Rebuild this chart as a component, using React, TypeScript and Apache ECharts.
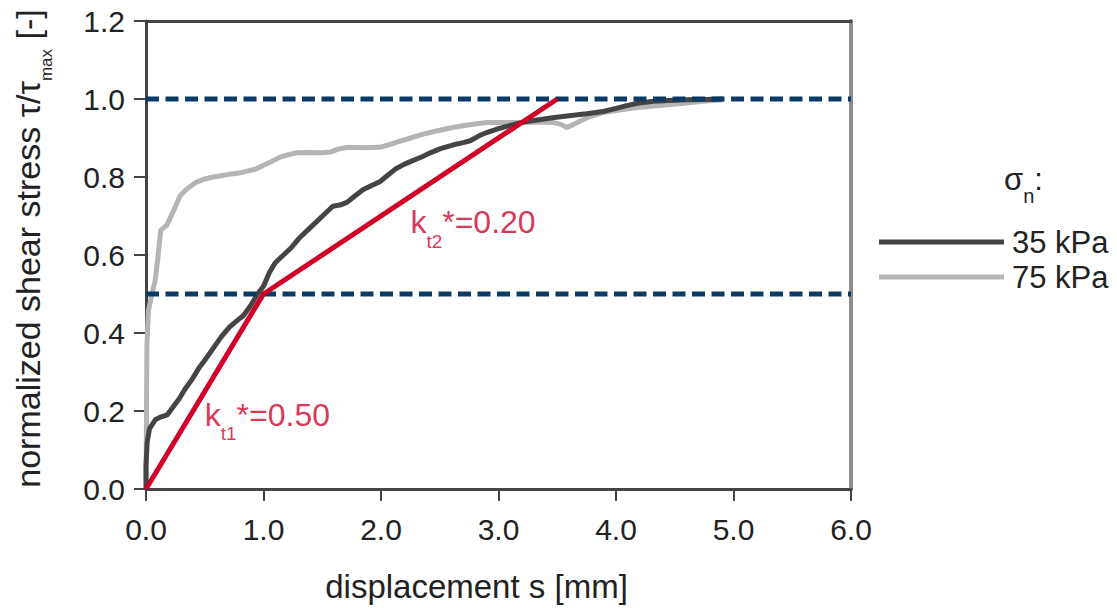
import React, { useEffect, useRef } from 'react';
import * as echarts from 'echarts';

const seriesNames = ['35 kPa', '75 kPa'];

const curve35: [number, number][] = [
  [0, 0], [0.0, 0.06], [0.01, 0.12], [0.03, 0.155], [0.08, 0.178], [0.13, 0.185], [0.18, 0.19],
  [0.23, 0.21], [0.28, 0.23], [0.33, 0.255], [0.4, 0.285], [0.45, 0.31], [0.5, 0.33], [0.57, 0.36],
  [0.64, 0.39], [0.71, 0.415], [0.78, 0.433], [0.83, 0.445], [0.89, 0.47], [0.95, 0.5], [1.0, 0.52],
  [1.05, 0.555], [1.1, 0.58], [1.17, 0.6], [1.24, 0.62], [1.31, 0.645], [1.38, 0.665], [1.45, 0.685],
  [1.52, 0.705], [1.59, 0.725], [1.65, 0.728], [1.71, 0.735], [1.78, 0.752], [1.85, 0.768],
  [1.92, 0.778], [1.99, 0.788], [2.06, 0.805], [2.13, 0.822], [2.2, 0.833], [2.27, 0.842],
  [2.35, 0.852], [2.42, 0.862], [2.5, 0.872], [2.61, 0.882], [2.7, 0.888], [2.76, 0.893],
  [2.83, 0.905], [2.9, 0.914], [3.0, 0.924], [3.07, 0.93], [3.2, 0.94], [3.33, 0.946],
  [3.46, 0.952], [3.6, 0.957], [3.75, 0.962], [3.89, 0.968], [4.0, 0.976], [4.09, 0.983],
  [4.2, 0.99], [4.32, 0.994], [4.45, 0.996], [4.6, 0.998], [4.75, 0.999], [4.91, 1.0],
];

const curve75: [number, number][] = [
  [0, 0.02], [0.003, 0.13], [0.005, 0.25], [0.008, 0.37], [0.02, 0.455], [0.05, 0.5], [0.077, 0.533],
  [0.1, 0.59], [0.125, 0.663], [0.176, 0.676], [0.23, 0.71], [0.29, 0.752], [0.35, 0.77],
  [0.43, 0.787], [0.5, 0.795], [0.57, 0.8], [0.64, 0.803], [0.71, 0.807], [0.79, 0.81],
  [0.86, 0.815], [0.93, 0.82], [1.0, 0.83], [1.07, 0.84], [1.14, 0.851], [1.21, 0.857],
  [1.28, 0.862], [1.4, 0.863], [1.5, 0.862], [1.57, 0.864], [1.64, 0.872], [1.71, 0.876],
  [1.85, 0.875], [1.99, 0.876], [2.06, 0.882], [2.13, 0.889], [2.25, 0.9], [2.36, 0.91],
  [2.47, 0.918], [2.61, 0.927], [2.75, 0.934], [2.9, 0.94], [3.05, 0.94], [3.18, 0.94],
  [3.32, 0.941], [3.46, 0.94], [3.53, 0.935], [3.58, 0.927], [3.64, 0.935], [3.69, 0.943],
  [3.78, 0.955], [3.89, 0.965], [4.03, 0.972], [4.18, 0.978], [4.32, 0.982], [4.46, 0.986],
  [4.6, 0.99], [4.74, 0.994], [4.91, 0.998],
];

const bilinear: [number, number][] = [[0, 0], [1.0, 0.5], [3.5, 1.0]];

const refLevels = [1.0, 0.5];
const xRange = [0, 6];

const annotationX = [0.5, 2.25];
const annotationY = [0.166, 0.66];
const annotationSub = ['t1', 't2'];
const annotationValue = ['0.50', '0.20'];

const FONT = 'Liberation Sans, Arial, sans-serif';
const TEXT = '#222222';
const RED = '#d20028';
const NAVY = '#0b3a66';
const AXIS = '#444444';

export default function App() {
  const ref = useRef<HTMLDivElement>(null);

  useEffect(() => {
    if (!ref.current) return;
    const chart = echarts.init(ref.current, undefined, { renderer: 'svg' });

    const refSeries = refLevels.map((lv, i) => ({
      type: 'line',
      name: 'ref' + i,
      data: xRange.map((x) => [x, lv]),
      showSymbol: false,
      symbol: 'none',
      silent: true,
      lineStyle: { color: NAVY, width: 5, type: [13, 6.5] },
      z: 3,
    }));

    const option: any = {
      animation: false,
      backgroundColor: '#ffffff',
      grid: { left: 146, right: 266, top: 21, bottom: 116, containLabel: false },
      title: {
        text: '{a|σ}{b|n}{a|:}',
        left: 1004,
        top: 152,
        padding: 0,
        textStyle: {
          fontWeight: 'normal',
          rich: {
            a: { fontSize: 31, lineHeight: 54, fontWeight: 'normal', color: TEXT, fontFamily: FONT },
            b: { fontSize: 20, lineHeight: 20, fontWeight: 'normal', verticalAlign: 'bottom', color: TEXT, fontFamily: FONT },
          },
        },
      },
      legend: {
        orient: 'vertical',
        left: 879,
        top: 226,
        padding: 0,
        itemWidth: 125,
        itemHeight: 5,
        itemGap: 3,
        icon: 'rect',
        selectedMode: false,
        data: seriesNames,
        textStyle: { fontSize: 31, lineHeight: 32, color: TEXT, fontFamily: FONT, padding: [0, 0, 0, 3] },
      },
      xAxis: [
        {
          type: 'value',
          min: 0,
          max: 6,
          interval: 1,
          name: 'displacement s [mm]',
          nameLocation: 'middle',
          nameGap: 81,
          nameTextStyle: { fontSize: 33, lineHeight: 33, color: TEXT, fontFamily: FONT, padding: [0, 44, 0, 0] },
          axisLine: { show: true, onZero: false, lineStyle: { color: AXIS, width: 3 } },
          axisTick: { show: true, inside: false, length: 12, lineStyle: { color: AXIS, width: 2 } },
          axisLabel: {
            margin: 25,
            fontSize: 30,
            lineHeight: 30,
            color: TEXT,
            fontFamily: FONT,
            formatter: (v: number) => v.toFixed(1),
          },
          splitLine: { show: false },
        },
        {
          type: 'value',
          position: 'top',
          min: 0,
          max: 6,
          interval: 1,
          axisLine: { show: true, onZero: false, lineStyle: { color: AXIS, width: 3 } },
          axisTick: { show: false },
          axisLabel: { show: false },
          splitLine: { show: false },
        },
      ],
      yAxis: [
        {
          type: 'value',
          min: 0,
          max: 1.2,
          interval: 0.2,
          name: '{a|normalized shear stress τ/τ}{b|max}{a| [-]}',
          nameLocation: 'middle',
          nameGap: 91,
          nameRotate: 90,
          nameTextStyle: {
            padding: [0, 0, 0, 13],
            rich: {
              a: { fontSize: 34, lineHeight: 55, color: TEXT, fontFamily: FONT },
              b: { fontSize: 17, lineHeight: 16, verticalAlign: 'bottom', color: TEXT, fontFamily: FONT },
            },
          },
          axisLine: { show: true, onZero: false, lineStyle: { color: AXIS, width: 3 } },
          axisTick: { show: true, inside: false, length: 12, lineStyle: { color: AXIS, width: 2 } },
          axisLabel: {
            margin: 21,
            fontSize: 30,
            color: TEXT,
            fontFamily: FONT,
            formatter: (v: number) => v.toFixed(1),
          },
          splitLine: { show: false },
        },
        {
          type: 'value',
          position: 'right',
          min: 0,
          max: 1.2,
          interval: 0.2,
          axisLine: { show: true, onZero: false, lineStyle: { color: '#8c8c8c', width: 4 } },
          axisTick: { show: false },
          axisLabel: { show: false },
          splitLine: { show: false },
        },
      ],
      series: [
        {
          type: 'line',
          name: seriesNames[1],
          data: curve75,
          color: '#b4b4b4',
          showSymbol: false,
          symbol: 'none',
          lineStyle: { color: '#b4b4b4', width: 5 },
          z: 2,
        },
        {
          type: 'line',
          name: seriesNames[0],
          data: curve35,
          color: '#444444',
          showSymbol: false,
          symbol: 'none',
          lineStyle: { color: '#444444', width: 5 },
          z: 2,
        },
        ...refSeries,
        {
          type: 'line',
          name: 'bilinear',
          data: bilinear,
          showSymbol: false,
          symbol: 'none',
          silent: true,
          lineStyle: { color: RED, width: 5 },
          z: 4,
        },
        {
          type: 'scatter',
          name: 'annotations',
          data: annotationX.map((x, i) => [x, annotationY[i]]),
          symbolSize: 2,
          itemStyle: { color: 'transparent' },
          silent: true,
          z: 5,
          label: {
            show: true,
            position: [1, -37],
            formatter: (p: any) =>
              `{a|k}{b|${annotationSub[p.dataIndex]}}{a|*=${annotationValue[p.dataIndex]}}`,
            rich: {
              a: { fontSize: 32, lineHeight: 57, color: RED, fontFamily: FONT },
              b: { fontSize: 19, lineHeight: 19, verticalAlign: 'bottom', color: RED, fontFamily: FONT },
            },
          },
        },
      ],
    };

    chart.setOption(option);
    return () => chart.dispose();
  }, []);

  return (
    <div
      ref={ref}
      style={{ position: 'absolute', left: 0, top: 0, width: 1117, height: 608, background: '#fff' }}
    />
  );
}
